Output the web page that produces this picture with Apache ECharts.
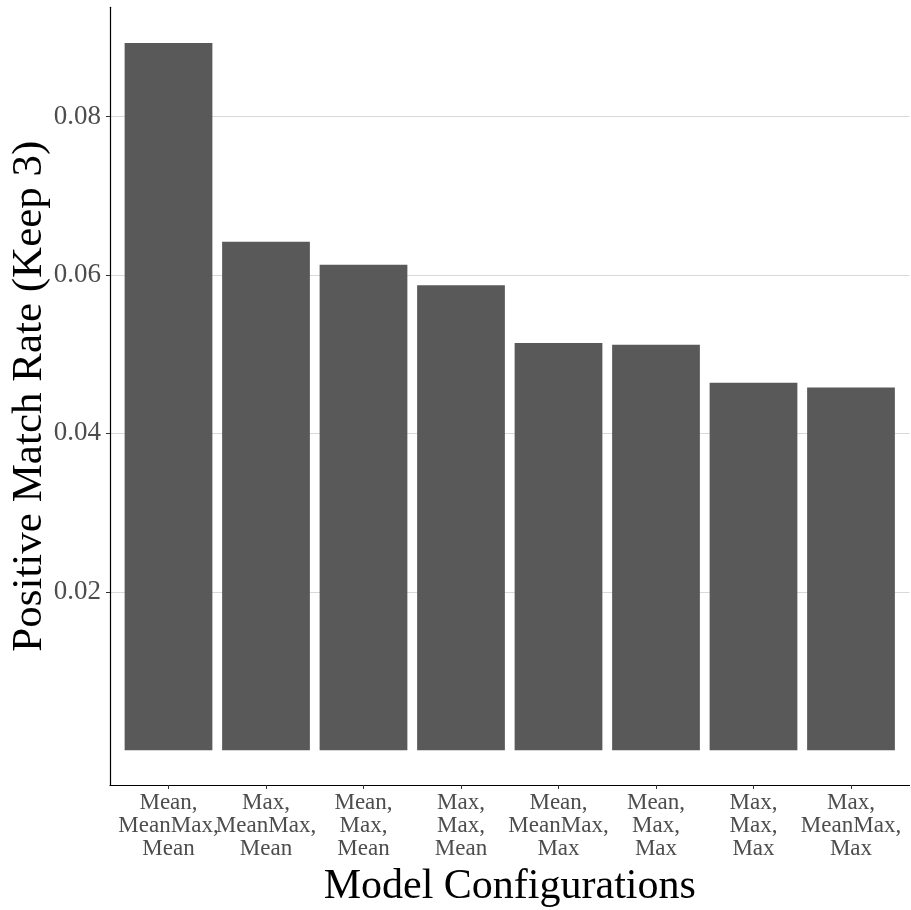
<!DOCTYPE html>
<html>
<head>
<meta charset="utf-8">
<script src="https://cdn.jsdelivr.net/npm/echarts@6/dist/echarts.min.js"></script>
<style>html,body{margin:0;padding:0;background:#fff}#c{width:911px;height:910px}</style>
</head>
<body>
<div id="c"></div>
<script>
const categories = [
  "Mean,\nMeanMax,\nMean",
  "Max,\nMeanMax,\nMean",
  "Mean,\nMax,\nMean",
  "Max,\nMax,\nMean",
  "Mean,\nMeanMax,\nMax",
  "Mean,\nMax,\nMax",
  "Max,\nMax,\nMax",
  "Max,\nMeanMax,\nMax"
];
const values = [0.0893, 0.0642, 0.0613, 0.0587, 0.0514, 0.0512, 0.0464, 0.0458];
const yTicks = [0.02, 0.04, 0.06, 0.08];
const yMin = -0.0044;
const yMax = 0.0938;

const FONT = "Liberation Serif";
const chart = echarts.init(document.getElementById('c'), null, {renderer: 'canvas'});
chart.setOption({
  animation: false,
  backgroundColor: '#fff',
  grid: [
    {left: 110, right: 1.5, top: 7.3, bottom: 125, containLabel: false, outerBoundsMode: 'none'},
    {left: 119.75, right: 11.25, top: 7.3, bottom: 125, containLabel: false, outerBoundsMode: 'none'}
  ],
  xAxis: [
    {
      type: 'value', gridIndex: 0, min: 0, max: 1,
      axisLine: {show: true, onZero: false, lineStyle: {color: '#000', width: 1.2}},
      axisTick: {show: false}, axisLabel: {show: false}, splitLine: {show: false},
      name: 'Model Configurations', nameLocation: 'middle', nameGap: 81, nameMoveOverlap: false,
      nameTextStyle: {fontFamily: FONT, fontSize: 42, color: '#000'}
    },
    {
      type: 'category', gridIndex: 1, data: categories, position: 'bottom',
      axisLine: {show: false, onZero: false},
      axisTick: {show: true, alignWithLabel: true, length: 4, lineStyle: {color: '#333', width: 1}},
      axisLabel: {interval: 0, margin: 6, fontFamily: FONT, fontSize: 23, lineHeight: 23, color: '#4d4d4d', align: 'center'},
      splitLine: {show: false}
    }
  ],
  yAxis: [
    {
      type: 'value', gridIndex: 0, min: yMin, max: yMax,
      axisLine: {show: true, onZero: false, lineStyle: {color: '#000', width: 1.2}},
      axisTick: {show: true, length: 4, customValues: yTicks, lineStyle: {color: '#333'}},
      axisLabel: {customValues: yTicks, margin: 9, fontFamily: FONT, fontSize: 27, color: '#4d4d4d',
        formatter: v => v.toFixed(2)},
      splitLine: {show: true, lineStyle: {color: '#d9d9d9', width: 1.2}},
      name: 'Positive Match Rate (Keep 3)', nameLocation: 'middle', nameGap: 59, nameRotate: 90,
      nameMoveOverlap: false,
      nameTextStyle: {fontFamily: FONT, fontSize: 43, color: '#000'}
    },
    {
      type: 'value', gridIndex: 1, min: yMin, max: yMax, show: false,
      splitLine: {show: false}
    }
  ],
  series: [{
    type: 'bar', xAxisIndex: 1, yAxisIndex: 1,
    data: values, barWidth: '90%',
    itemStyle: {color: '#595959'}
  }]
});
</script>
</body>
</html>
